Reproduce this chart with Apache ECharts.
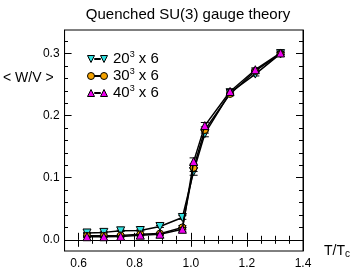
<!DOCTYPE html>
<html>
<head>
<meta charset="utf-8">
<script src="https://cdn.jsdelivr.net/npm/echarts@6/dist/echarts.min.js"></script>
<style>html,body{margin:0;padding:0;background:#fff;}#c{width:353px;height:273px;}</style>
</head>
<body>
<div id="c"></div>
<script>
// ---- data ----
const temps = [0.63, 0.69, 0.75, 0.82, 0.89, 0.97, 1.01, 1.05, 1.14, 1.23, 1.32];
const seriesNames = ['20³ x 6', '30³ x 6', '40³ x 6'];
const w20 = [0.011, 0.012, 0.0145, 0.015, 0.0215, 0.036, 0.110, 0.171, 0.237, 0.267, 0.300];
const w30 = [0.0065, 0.0065, 0.007, 0.009, 0.010, 0.020, 0.116, 0.177, 0.235, 0.272, 0.300];
const w40 = [0.005, 0.005, 0.0055, 0.0075, 0.009, 0.017, 0.126, 0.184, 0.239, 0.274, 0.301];
const e20 = [0.001, 0.001, 0.001, 0.001, 0.0015, 0.003, 0.006, 0.005, 0.003, 0.003, 0.002];
const e30 = [0.001, 0.001, 0.001, 0.001, 0.0015, 0.003, 0.006, 0.005, 0.003, 0.003, 0.002];
const e40 = [0.001, 0.001, 0.001, 0.001, 0.0015, 0.003, 0.006, 0.005, 0.003, 0.003, 0.002];
const xMajorTicks = [0.6, 0.8, 1.0, 1.2, 1.4];
const xMinorTicks = [0.65, 0.7, 0.75, 0.85, 0.9, 0.95, 1.05, 1.1, 1.15, 1.25, 1.3, 1.35];
const yMajorTicks = [0.0, 0.1, 0.2, 0.3];
const yMinorTicks = [0.02, 0.04, 0.06, 0.08, 0.12, 0.14, 0.16, 0.18, 0.22, 0.24, 0.26, 0.28, 0.32];

const FONT = 'Liberation Sans';
const colors = ['#30e0e0', '#f5a300', '#ee00ee'];
const symbols = [['triangle', 180], ['circle', 0], ['triangle', 0]];
const values = [w20, w30, w40];
const errors = [e20, e30, e40];

const iconDown = 'path://M0,0 L7,0 L3.5,7 Z M13,0 L20,0 L16.5,7 Z M7,3 L13,3 L13,4 L7,4 Z';
const iconCircle = 'path://M0,3.5 A3.5,3.5 0 1,1 7,3.5 A3.5,3.5 0 1,1 0,3.5 Z M13,3.5 A3.5,3.5 0 1,1 20,3.5 A3.5,3.5 0 1,1 13,3.5 Z M7,3 L13,3 L13,4 L7,4 Z';
const iconUp = 'path://M0,7 L7,7 L3.5,0 Z M13,7 L20,7 L16.5,0 Z M7,3 L13,3 L13,4 L7,4 Z';
const icons = [iconDown, iconCircle, iconUp];

const XMIN = 0.55, XMAX = 1.4, YMIN = -0.018, YMAX = 0.338;

function xAx(pos, ticks, len, labels, grid, extra) {
  return Object.assign({
    type: 'value', gridIndex: grid, position: pos, min: XMIN, max: XMAX,
    axisLine: { show: grid === 0, lineStyle: { color: '#000', width: 1 } },
    axisTick: { show: true, inside: true, length: len, customValues: ticks, lineStyle: { color: '#000', width: 1 } },
    axisLabel: labels ? { show: true, customValues: ticks, margin: 7, color: '#000', fontFamily: FONT, fontSize: 12, formatter: v => v.toFixed(1) } : { show: false },
    splitLine: { show: false }
  }, extra || {});
}
function yAx(pos, ticks, len, labels, grid, extra) {
  return Object.assign({
    type: 'value', gridIndex: grid, position: pos, min: YMIN, max: YMAX,
    axisLine: { show: grid === 0, lineStyle: { color: '#000', width: 1 } },
    axisTick: { show: true, inside: true, length: len, customValues: ticks, lineStyle: { color: '#000', width: 1 } },
    axisLabel: labels ? { show: true, customValues: ticks, margin: 5, color: '#000', fontFamily: FONT, fontSize: 12, formatter: v => v.toFixed(1) } : { show: false },
    splitLine: { show: false }
  }, extra || {});
}

const series = [];
for (let s = 0; s < 3; s++) {
  const pts = temps.map((t, i) => [t, values[s][i], errors[s][i]]);
  series.push({
    type: 'custom', name: seriesNames[s] + ' err', xAxisIndex: 0, yAxisIndex: 0, z: 2 + s * 2,
    data: pts, silent: true,
    renderItem: (params, api) => {
      const x = api.value(0), y = api.value(1), e = api.value(2);
      const lo = api.coord([x, y - e]), hi = api.coord([x, y + e]);
      const w = 4;
      const st = { stroke: '#000', lineWidth: 1 };
      return { type: 'group', children: [
        { type: 'line', shape: { x1: lo[0], y1: lo[1], x2: hi[0], y2: hi[1] }, style: st },
        { type: 'line', shape: { x1: lo[0] - w, y1: lo[1], x2: lo[0] + w, y2: lo[1] }, style: st },
        { type: 'line', shape: { x1: hi[0] - w, y1: hi[1], x2: hi[0] + w, y2: hi[1] }, style: st }
      ]};
    }
  });
  series.push({
    type: 'line', name: seriesNames[s], xAxisIndex: 0, yAxisIndex: 0, z: 3 + s * 2,
    data: temps.map((t, i) => [t, values[s][i]]),
    symbol: symbols[s][0], symbolRotate: symbols[s][1], symbolSize: s === 1 ? 7 : 8,
    showAllSymbol: true,
    lineStyle: { color: '#000', width: 1.5 },
    itemStyle: { color: colors[s], borderColor: '#000', borderWidth: 1 },
    emphasis: { disabled: true },
    animation: false
  });
}

const chart = echarts.init(document.getElementById('c'), null, { renderer: 'canvas' });
chart.setOption({
  animation: false,
  backgroundColor: '#fff',
  textStyle: { fontFamily: FONT },
  title: {
    text: 'Quenched SU(3) gauge theory', left: 183, top: 2, textAlign: 'center',
    textStyle: { fontFamily: FONT, fontSize: 15, fontWeight: 'normal', color: '#000' }
  },
  legend: {
    orient: 'vertical', left: 82, top: 45, itemGap: 0.5,
    itemWidth: 21, itemHeight: 7,
    data: seriesNames.map((n, i) => ({ name: n, icon: icons[i], itemStyle: { color: colors[i], borderColor: '#000', borderWidth: 1 } })),
    formatter: n => '{n|' + n.slice(0, 2) + '}{s|3}{n|' + n.slice(3) + '}',
    textStyle: {
      color: '#000', fontFamily: FONT,
      rich: {
        n: { fontSize: 15, lineHeight: 18, fontFamily: FONT, color: '#000' },
        s: { fontSize: 9, lineHeight: 9, verticalAlign: 'top', fontFamily: FONT, color: '#000' }
      }
    },
    selectedMode: false
  },
  grid: [
    { left: 64, right: 50, top: 30, bottom: 22, show: true, borderColor: '#000', borderWidth: 1, backgroundColor: 'transparent' },
    { left: 64, right: 50, top: 30, bottom: 22, show: false }
  ],
  xAxis: [
    xAx('bottom', xMajorTicks, 7, true, 0, {
      name: 'T/Tc', nameLocation: 'end', nameGap: 21,
      nameTextStyle: {
        align: 'left', verticalAlign: 'top', padding: [3, 0, 0, 0],
        rich: {
          a: { fontSize: 14, lineHeight: 16, fontFamily: FONT, color: '#000' },
          b: { fontSize: 10, lineHeight: 10, verticalAlign: 'bottom', padding: [0, 0, 0, 0], fontFamily: FONT, color: '#000' }
        }
      }
    }),
    xAx('top', xMajorTicks, 7, false, 0),
    xAx('bottom', xMinorTicks, 4, false, 1),
    xAx('top', xMinorTicks, 4, false, 1)
  ],
  yAxis: [
    yAx('left', yMajorTicks, 7, true, 0, {
      name: '< W/V >', nameLocation: 'end', nameGap: -48, nameRotate: 0,
      nameTextStyle: { align: 'right', verticalAlign: 'middle', padding: [0, 11, 0, 0], fontSize: 14, fontFamily: FONT, color: '#000' }
    }),
    yAx('right', yMajorTicks, 7, false, 0),
    yAx('left', yMinorTicks, 4, false, 1),
    yAx('right', yMinorTicks, 4, false, 1)
  ],
  series: series
});
// x-axis name with subscript
chart.setOption({ xAxis: [{ name: '{a|T/T}{b|c}' }] });
</script>
</body>
</html>
